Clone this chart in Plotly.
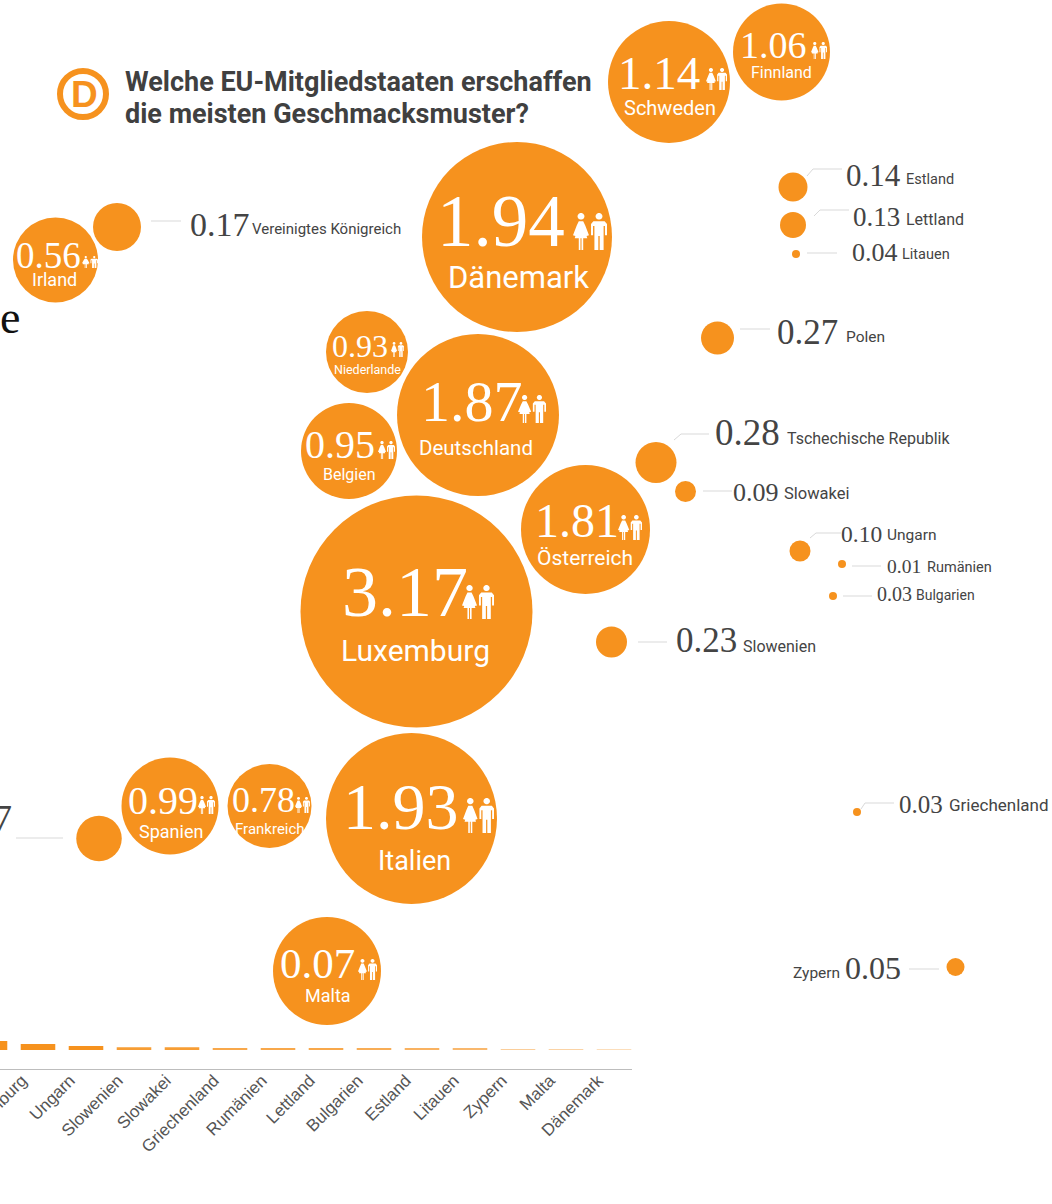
import math
import plotly.graph_objects as go

ORANGE = "#F6921E"
TEXT = "#444444"
NUM_FONT = "Liberation Serif"
NAME_FONT = "Roboto, Liberation Sans"

# large bubbles: white value, country name, person icon inside
big_names = ["Schweden", "Finnland", "Dänemark", "Irland", "Niederlande", "Deutschland", "Belgien",
             "Österreich", "Luxemburg", "Spanien", "Frankreich", "Italien", "Malta"]
big_values = ["1.14", "1.06", "1.94", "0.56", "0.93", "1.87", "0.95", "1.81", "3.17", "0.99", "0.78", "1.93", "0.07"]
big_cx = [669, 781.5, 517, 55.5, 367, 478, 349, 585.5, 416.5, 170, 269.5, 411.5, 327]
big_cy = [82, 52, 237, 260, 352, 415, 451, 529.5, 611.5, 806, 806, 818.5, 971]
big_d = [122, 97, 190, 85, 82, 162, 96, 129, 232, 97, 84, 171, 108]
big_num_x = [659, 773.5, 501, 48.5, 360, 472, 340, 576.5, 405, 163, 263.5, 400.5, 317.5]
big_num_y = [72.5, 45, 221, 255.5, 345.5, 401, 444.5, 520, 591.5, 800, 799.5, 806, 963.5]
big_num_size = [47, 38, 73, 37, 32, 58, 40, 48, 72, 40, 36, 66, 43]
big_name_x = [670, 781, 518, 54.5, 367, 476, 349.5, 585, 415.5, 170.5, 270, 414, 328]
big_name_y = [108, 72, 277, 279.5, 369, 447.5, 474.5, 557.5, 650, 831.5, 828.5, 860.5, 995.5]
big_name_size = [20, 16, 31, 18, 12.5, 20.5, 16, 21, 30, 18, 15, 27, 18]
icon_x0 = [706, 811, 573, 82, 391, 518, 378, 618, 462, 198, 295, 463, 358]
icon_x1 = [727, 827, 607, 98, 404, 546, 395, 642, 494, 215, 310, 494, 377]
icon_y0 = [68, 42, 213, 256, 342, 395, 441, 515, 585, 796, 797, 798, 959]
icon_y1 = [90, 59, 250, 268, 357, 423, 459, 540, 619, 814, 813, 833, 980]

# small bubbles with an outside label
small_names = ["Vereinigtes Königreich", "Estland", "Lettland", "Litauen", "Polen", "Tschechische Republik",
               "Slowakei", "Ungarn", "Rumänien", "Bulgarien", "Slowenien", "Griechenland", "Zypern"]
small_values = ["0.17", "0.14", "0.13", "0.04", "0.27", "0.28", "0.09", "0.10", "0.01", "0.03", "0.23", "0.03", "0.05"]
small_cx = [117, 793, 793, 796, 717.5, 656, 685.5, 800, 842, 833, 611.5, 857, 955.5]
small_cy = [227, 187, 225, 254, 338, 462.5, 491.5, 551, 564, 596, 642, 812, 967]
small_d = [48, 29, 26, 8, 33, 41, 21, 21, 8, 8, 31, 8, 18]
small_val_x = [190, 846, 853, 852, 777, 715, 733, 841, 887, 877, 676, 899, 845]
small_val_y = [224.5, 175, 217, 252, 332.5, 432.5, 492.5, 534, 566, 594, 640, 804.5, 968]
small_val_size = [34, 31, 27, 26, 35, 37, 26, 23.5, 19.5, 20, 35, 25, 32]
small_name_x = [252, 906, 906, 902, 846, 787, 784, 887, 927, 916, 743, 949, 793]
small_name_y = [229, 179, 219, 254, 337, 438, 493, 535, 567, 595, 646, 805, 973]
small_name_size = [15, 14.5, 16, 14.5, 15.5, 16, 16.5, 15.5, 14.5, 14, 16, 17, 15.5]
leader_x = [[151, 181], [807, 813, 842], [814, 820, 849], [807, 837], [740, 770], [674, 681, 709], [703, 732],
            [810, 816, 841], [852, 881], [843, 872], [638, 667], [861, 865, 894], [909, 939]]
leader_y = [[221, 221], [176, 169, 169], [216, 210, 210], [253, 253], [329, 329], [440, 434, 434], [491, 491],
            [538, 533, 533], [566, 566], [596, 596], [642, 642], [809, 803, 803], [969, 969]]

# the bubble cropped at the left edge
cut_value = "7"
cut_cx = [99]
cut_cy = [838.5]
cut_d = [45.5]
cut_leader_x = [16, 63]
cut_leader_y = [838, 838]

# bar strip along the bottom
bar_categories = ["Portugal", "Luxemburg", "Ungarn", "Slowenien", "Slowakei", "Griechenland", "Rumänien", "Lettland",
                  "Bulgarien", "Estland", "Litauen", "Zypern", "Malta", "Dänemark"]
bar_values = [9, 6, 4, 2.7, 2.7, 1.7, 1.7, 1.7, 1.4, 1.4, 1.2, 1, 1, 0.8]
bar_opacity = [1, 1, 1, 0.9, 0.9, 0.8, 0.8, 0.8, 0.75, 0.7, 0.65, 0.45, 0.4, 0.3]

TITLE_LINES = ["Welche EU-Mitgliedstaaten erschaffen", "die meisten Geschmacksmuster?"]

W, H = 1052, 1204
fig = go.Figure()

# leader lines
for lx, ly in zip(leader_x + [cut_leader_x], leader_y + [cut_leader_y]):
    fig.add_trace(go.Scatter(x=lx, y=ly, mode="lines", line=dict(color="#d9d9d9", width=1),
                             hoverinfo="skip", showlegend=False))

# bubbles
fig.add_trace(go.Scatter(x=big_cx + small_cx + cut_cx, y=big_cy + small_cy + cut_cy, mode="markers",
                         marker=dict(size=big_d + small_d + cut_d, sizemode="diameter", color=ORANGE,
                                     line=dict(width=0), opacity=1),
                         showlegend=False, hoverinfo="skip"))

# logo ring
fig.add_trace(go.Scatter(x=[83], y=[94], mode="markers",
                         marker=dict(size=46, color="white", line=dict(color=ORANGE, width=6)),
                         showlegend=False, hoverinfo="skip"))

# bottom bars on their own axes
fig.add_trace(go.Bar(x=bar_categories, y=bar_values, xaxis="x2", yaxis="y2", width=0.72,
                     marker=dict(color=ORANGE, opacity=bar_opacity, line=dict(width=0)),
                     cliponaxis=False, showlegend=False, hoverinfo="skip"))


def note(x, y, text, size, color, family, anchor="center"):
    fig.add_annotation(x=x, y=y, xref="x", yref="y", text=text, showarrow=False, xanchor=anchor, yanchor="middle",
                       font=dict(size=size, color=color, family=family), borderpad=0, borderwidth=0)


for i in range(len(big_names)):
    note(big_num_x[i], big_num_y[i], big_values[i], big_num_size[i], "white", NUM_FONT)
    note(big_name_x[i], big_name_y[i], big_names[i], big_name_size[i], "white", NAME_FONT)

for i in range(len(small_names)):
    note(small_val_x[i], small_val_y[i], small_values[i], small_val_size[i], TEXT, NUM_FONT, "left")
    note(small_name_x[i], small_name_y[i], small_names[i], small_name_size[i], TEXT, NAME_FONT, "left")

note(12, 818, cut_value, 38, TEXT, NUM_FONT, "right")
note(0, 317, "e", 46, "#111111", NUM_FONT, "left")
note(84, 94, "<b>D</b>", 37, ORANGE, "Liberation Sans")
note(125, 82, "<b>" + TITLE_LINES[0] + "</b>", 27, "#404040", NAME_FONT, "left")
note(125, 114, "<b>" + TITLE_LINES[1] + "</b>", 27, "#404040", NAME_FONT, "left")

# person icons
WOMAN = [(.17, .22), (.30, .22), (.36, .34), (.47, .60), (.40, .62), (.34, .44), (.42, .68), (.30, .68), (.30, 1),
         (.25, 1), (.25, .68), (.22, .68), (.22, 1), (.17, 1), (.17, .68), (.05, .68), (.13, .44), (.07, .62),
         (0, .60), (.11, .34)]
MAN = [(.60, .22), (.93, .22), (1, .30), (1, .60), (.94, .60), (.94, .35), (.90, .35), (.90, 1), (.785, 1), (.785, .62),
       (.745, .62), (.745, 1), (.63, 1), (.63, .35), (.59, .35), (.59, .60), (.53, .60), (.53, .30)]


def poly(points, x0, x1, y0, y1):
    coords = [(x0 + px * (x1 - x0), y0 + py * (y1 - y0)) for px, py in points]
    return "M" + " L".join(f"{a:.2f},{b:.2f}" for a, b in coords) + " Z"


def head(cx, x0, x1, y0, y1):
    hy = y1 - y0
    pts = []
    for k in range(14):
        t = 2 * math.pi * k / 14
        pts.append((cx + 0.09 * math.cos(t) * hy / (x1 - x0) * 1.05, 0.09 + 0.09 * math.sin(t)))
    return poly(pts, x0, x1, y0, y1)


shapes = []
for a, b, c, d in zip(icon_x0, icon_x1, icon_y0, icon_y1):
    path = " ".join([poly(WOMAN, a, b, c, d), poly(MAN, a, b, c, d), head(.235, a, b, c, d), head(.765, a, b, c, d)])
    shapes.append(dict(type="path", path=path, xref="x", yref="y", fillcolor="white", line=dict(width=0)))

fig.update_layout(
    width=W, height=H, autosize=False, margin=dict(l=0, r=0, t=0, b=0, autoexpand=False),
    paper_bgcolor="white", plot_bgcolor="white", showlegend=False, shapes=shapes,
    xaxis=dict(range=[0, W], domain=[0, 1], visible=False, fixedrange=True),
    yaxis=dict(range=[H, 0], domain=[0, 1], visible=False, fixedrange=True),
    xaxis2=dict(domain=[0, 632 / W], anchor="y2", type="category", categoryorder="array",
                categoryarray=bar_categories, range=[10 / 48, 642 / 48], showgrid=False, showline=True,
                linecolor="#bdbdbd", linewidth=1, ticks="", tickangle=-45, ticklabelshift=-16, ticklabelstandoff=-6,
                tickfont=dict(family="Liberation Sans", size=17, color="#555555"), fixedrange=True),
    yaxis2=dict(domain=[(H - 1069) / H, (H - 1030) / H], anchor="x2", range=[-19, 20], visible=False, fixedrange=True),
)

fig.write_html("out.html", config={"displayModeBar": False},
               post_script="document.documentElement.style.margin='0';document.body.style.margin='0';")
